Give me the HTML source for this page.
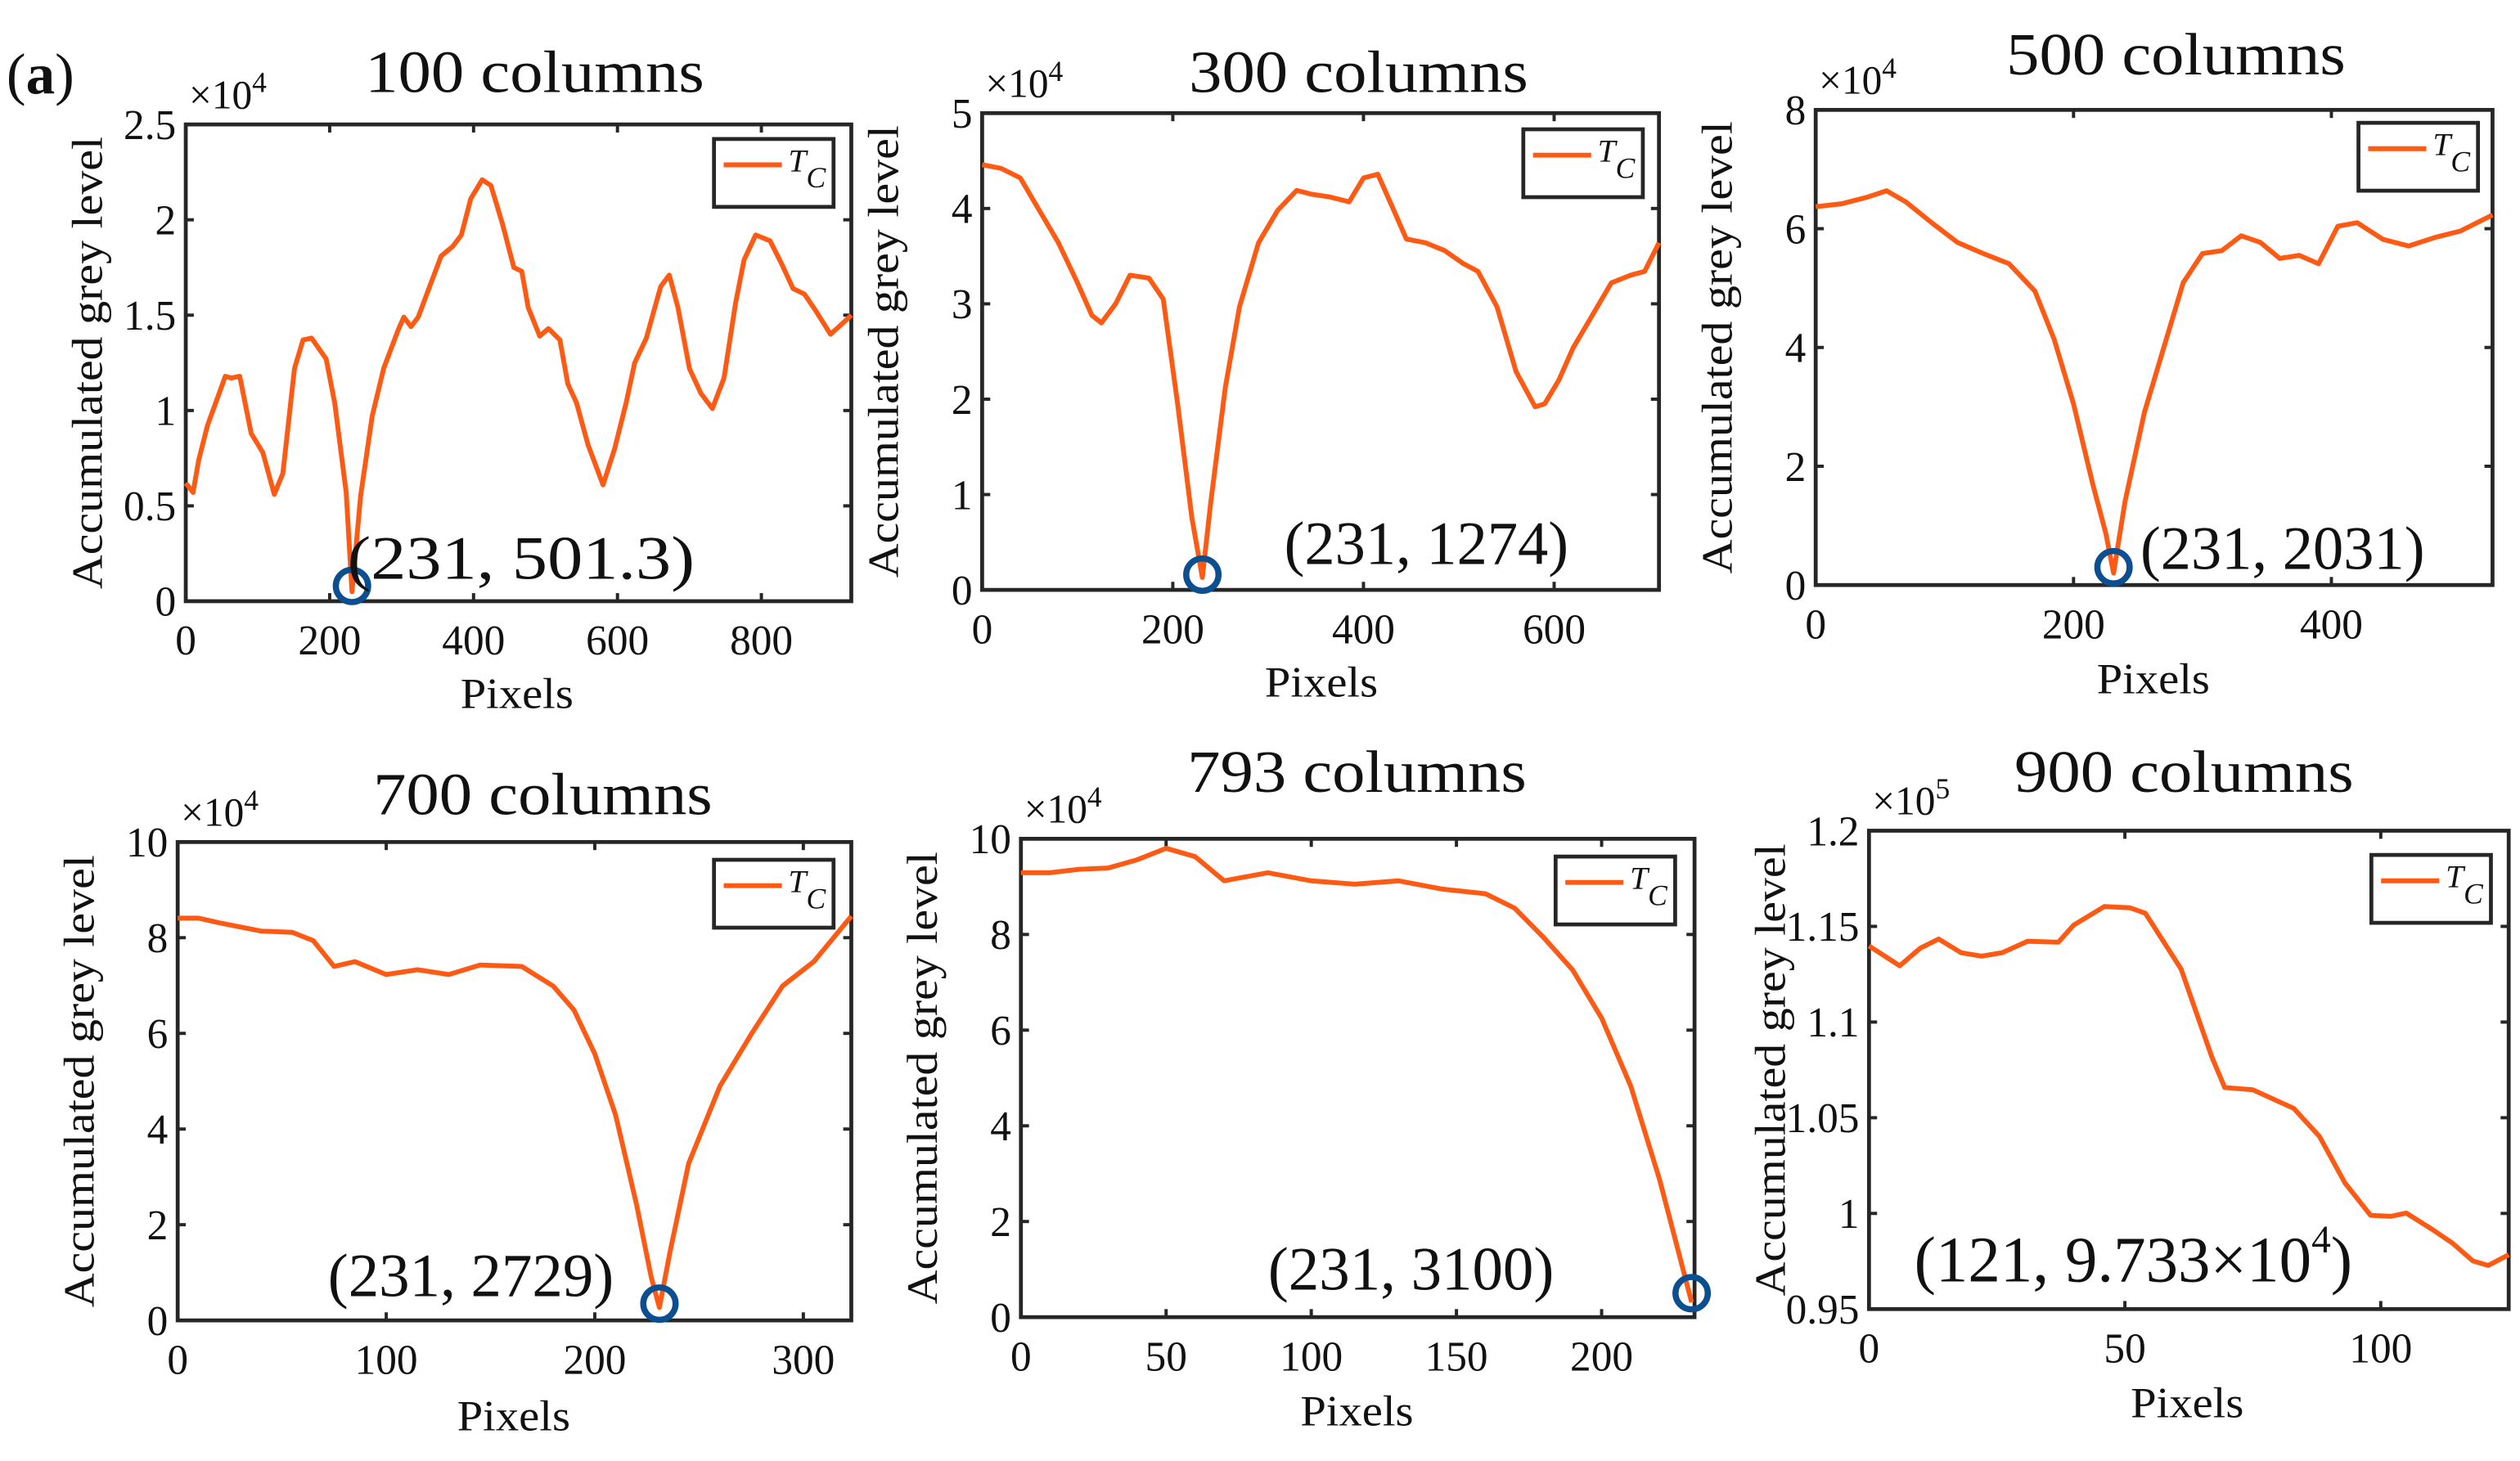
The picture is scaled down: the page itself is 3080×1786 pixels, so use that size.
<!DOCTYPE html>
<html><head><meta charset="utf-8">
<style>
html,body{margin:0;padding:0;background:#fff;}
svg{display:block;}
text{font-family:"Liberation Serif",serif;fill:#111;}
</style></head>
<body>
<svg id="fig" width="3080" height="1786" viewBox="0 0 1560 904" preserveAspectRatio="none" xmlns="http://www.w3.org/2000/svg">
<rect x="0" y="0" width="1560" height="904" fill="#fff"/>
<text x="4" y="58" font-size="36"><tspan>(</tspan><tspan font-weight="bold">a</tspan><tspan>)</tspan></text>
</svg>
<script>
// ---- data arrays (x in pixels, y in scaled units) ----
const p1x=[0,2,10,18,30,55,63,75,91,107,123,135,151,163,175,195,207,223,231,243,259,275,295,303,313,323,335,355,371,383,396,412,424,440,456,467,476,492,504,520,531,543,559,580,596,612,624,640,660,672,684,700,716,732,748,764,776,792,812,828,844,860,876,896,908,925];
const p1y=[0.6,0.61,0.57,0.74,0.92,1.18,1.17,1.18,0.88,0.78,0.56,0.67,1.22,1.37,1.38,1.27,1.04,0.57,0.05,0.55,0.97,1.22,1.42,1.49,1.44,1.49,1.61,1.81,1.86,1.92,2.11,2.21,2.18,1.98,1.75,1.73,1.54,1.39,1.43,1.37,1.14,1.04,0.82,0.61,0.80,1.04,1.25,1.38,1.65,1.71,1.54,1.22,1.09,1.01,1.17,1.56,1.79,1.92,1.89,1.77,1.64,1.61,1.52,1.40,1.44,1.50];
const p2x=[0,20,40,60,80,100,115,125,140,155,175,190,205,220,231,240,255,270,290,310,330,345,365,385,400,415,430,445,465,485,505,520,540,560,580,590,605,620,640,660,680,695,710];
const p2y=[4.46,4.42,4.32,3.98,3.64,3.22,2.88,2.80,3.0,3.3,3.27,3.05,1.95,0.76,0.13,0.93,2.12,2.97,3.64,3.98,4.19,4.15,4.12,4.07,4.32,4.36,4.02,3.68,3.64,3.56,3.42,3.34,2.97,2.29,1.92,1.95,2.20,2.54,2.88,3.22,3.30,3.34,3.64];
const p3x=[0,20,40,55,70,90,110,130,150,170,185,200,215,225,231,240,255,270,285,300,315,330,345,360,375,390,405,420,440,460,480,500,525];
const p3y=[6.37,6.42,6.53,6.64,6.45,6.10,5.77,5.58,5.41,4.95,4.14,3.05,1.69,0.87,0.2,1.41,2.91,4.0,5.09,5.58,5.63,5.88,5.77,5.50,5.55,5.41,6.04,6.10,5.82,5.71,5.85,5.96,6.23];
const p4x=[0,10,20,40,55,65,75,85,100,115,130,145,165,180,190,200,210,220,227,231,236,245,260,275,290,305,323];
const p4y=[8.41,8.41,8.31,8.14,8.11,7.94,7.40,7.50,7.23,7.33,7.23,7.43,7.40,6.99,6.49,5.57,4.29,2.43,0.91,0.27,1.42,3.28,4.90,5.98,6.99,7.50,8.45];
const p5x=[0,10,20,30,40,50,60,70,85,100,115,130,145,160,170,180,190,200,210,220,228,231];
const p5y=[9.29,9.29,9.36,9.39,9.56,9.80,9.63,9.12,9.29,9.12,9.05,9.12,8.95,8.85,8.55,7.94,7.26,6.25,4.83,2.87,1.01,0.31];
const p6x=[0,6,10,13.6,18,22,26,31,37,40,46,51,54,61,67,69.5,75,83,88,93,98,102,105,110,114,118,121,125];
const p6y=[1.1398,1.1294,1.1386,1.1434,1.1362,1.1345,1.1362,1.1422,1.1417,1.1507,1.1604,1.1597,1.1568,1.1277,1.0816,1.0658,1.0646,1.0549,1.0403,1.016,0.9990,0.9985,1.0002,0.9917,0.9845,0.9752,0.9728,0.9784];
const xt1=[0,200,400,600,800], yt1=[0,0.5,1,1.5,2,2.5], yl1=["0","0.5","1","1.5","2","2.5"];
const xt2=[0,200,400,600], yt2=[0,1,2,3,4,5], yl2=["0","1","2","3","4","5"];
const xt3=[0,200,400], yt3=[0,2,4,6,8], yl3=["0","2","4","6","8"];
const xt4=[0,100,200,300], yt4=[0,2,4,6,8,10], yl4=["0","2","4","6","8","10"];
const xt5=[0,50,100,150,200], yt5=[0,2,4,6,8,10], yl5=["0","2","4","6","8","10"];
const xt6=[0,50,100], yt6=[0.95,1,1.05,1.1,1.15,1.2], yl6=["0.95","1","1.05","1.1","1.15","1.2"];
const titles=["100 columns","300 columns","500 columns","700 columns","793 columns","900 columns"];
const mins=[[231,0.08],[231,0.16],[231,0.3],[231,0.35],[231,0.5],null];

const NS="http://www.w3.org/2000/svg";
const svg=document.getElementById('fig');
function mk(tag,attrs,parent){const e=document.createElementNS(NS,tag);for(const k in attrs)e.setAttribute(k,attrs[k]);(parent||svg).appendChild(e);return e;}

const panels=[
 {L:115,R:527,T:77,B:372,xmax:925,ymin:0,ymax:2.5,xs:p1x,ys:p1y,xt:xt1,yt:yt1,yl:yl1,exp:"4",tx:331,ty:57,leg:[442,86],ann:"(231, 501.3)",al:215,ax:215,ay:358,px:320,py:438},
 {L:608,R:1027,T:70,B:365,xmax:710,ymin:0,ymax:5,xs:p2x,ys:p2y,xt:xt2,yt:yt2,yl:yl2,exp:"4",tx:841,ty:57,leg:[943,80],ann:"(231, 1274)",al:176,ax:795,ay:349,px:818,py:431},
 {L:1124,R:1543,T:68,B:362,xmax:525,ymin:0,ymax:8,xs:p3x,ys:p3y,xt:xt3,yt:yt3,yl:yl3,exp:"4",tx:1347,ty:46,leg:[1460,76],ann:"(231, 2031)",al:176,ax:1325,ay:352,px:1333,py:429},
 {L:110,R:527,T:521,B:817,xmax:323,ymin:0,ymax:10,xs:p4x,ys:p4y,xt:xt4,yt:yt4,yl:yl4,exp:"4",tx:336,ty:504,leg:[442,532],ann:"(231, 2729)",al:177,ax:203,ay:802,px:318,py:885},
 {L:632,R:1049,T:519,B:815,xmax:232,ymin:0,ymax:10,xs:p5x,ys:p5y,xt:xt5,yt:yt5,yl:yl5,exp:"4",tx:840,ty:490,leg:[963,530],ann:"(231, 3100)",al:177,ax:785,ay:798,px:840,py:882},
 {L:1157,R:1553,T:514,B:810,xmax:125,ymin:0.95,ymax:1.2,xs:p6x,ys:p6y,xt:xt6,yt:yt6,yl:yl6,exp:"5",tx:1352,ty:490,leg:[1468,529],ann:null,al:0,ax:1185,ay:793,px:1354,py:877}
];

panels.forEach((p,i)=>{
  const g=mk('g',{});
  
  
  const X=v=>p.L+(v/p.xmax)*(p.R-p.L);
  const Y=v=>p.B-((v-p.ymin)/(p.ymax-p.ymin))*(p.B-p.T);
  const t=mk('text',{x:p.tx,y:p.ty,'font-size':37,'text-anchor':'middle',textLength:210,lengthAdjust:'spacingAndGlyphs'},g);t.textContent=titles[i];
  
  
  const box=mk('rect',{x:p.L,y:p.T,width:p.R-p.L,height:p.B-p.T,fill:'none',stroke:'#262626','stroke-width':2.4},g);
  
  
  p.xt.forEach(v=>{
    const x=X(v);
    mk('line',{x1:x,y1:p.B,x2:x,y2:p.B-5,stroke:'#262626','stroke-width':2},g);
    mk('line',{x1:x,y1:p.T,x2:x,y2:p.T+5,stroke:'#262626','stroke-width':2},g);
    const tl=mk('text',{x:x,y:p.B+33,'font-size':26,'text-anchor':'middle'},g);tl.textContent=String(v);
    
    
  });
  p.yt.forEach((v,k)=>{
    const y=Y(v);
    mk('line',{x1:p.L,y1:y,x2:p.L+5,y2:y,stroke:'#262626','stroke-width':2},g);
    mk('line',{x1:p.R,y1:y,x2:p.R-5,y2:y,stroke:'#262626','stroke-width':2},g);
    const tl=mk('text',{x:p.L-6,y:y+9,'font-size':26,'text-anchor':'end'},g);tl.textContent=p.yl[k];
    
    
  });
  const ex=mk('text',{x:p.L+2,y:p.T-10,'font-size':25},g);
  
  
  ex.innerHTML='×10<tspan dy="-10" font-size="18">'+p.exp+'</tspan>';
  const yc=(p.T+p.B)/2, xl=p.L-52;
  const yl=mk('text',{x:xl,y:yc,'font-size':27,'text-anchor':'middle',textLength:280,lengthAdjust:'spacingAndGlyphs',transform:'rotate(-90 '+xl+' '+yc+')'},g);
  yl.textContent='Accumulated grey level';
  
  
  const xlab=mk('text',{x:p.px,y:p.py,'font-size':27,'text-anchor':'middle',textLength:70,lengthAdjust:'spacingAndGlyphs'},g);
  xlab.textContent='Pixels';
  
  
  let d='';p.xs.forEach((v,k)=>{d+=(k?'L':'M')+X(v).toFixed(1)+','+Y(p.ys[k]).toFixed(1);});
  const line=mk('path',{d:d,fill:'none',stroke:'#ff5a14','stroke-width':3,'stroke-linejoin':'round'},g);
  
  
  if(mins[i]){
    const c=mk('ellipse',{cx:X(mins[i][0]),cy:Y(mins[i][1]),rx:10,ry:10,fill:'none',stroke:'#0b4f91','stroke-width':3.8},g);
    
    
  }
  let an;
  if(p.ann){
    an=mk('text',{x:p.ax,y:p.ay,'font-size':38,textLength:p.al,lengthAdjust:'spacingAndGlyphs'},g);
    an.textContent=p.ann;
  } else {
    an=mk('text',{x:p.ax,y:p.ay,'font-size':40},g);
    an.innerHTML='(121, 9.733×10<tspan dy="-18" font-size="24">4</tspan><tspan dy="18">)</tspan>';
  }
  
  
  const [lx,ly]=p.leg;
  const lg=mk('g',{},g);
  
  
  mk('rect',{x:lx,y:ly,width:74,height:42,fill:'#fff',stroke:'#262626','stroke-width':2.4},lg);
  mk('line',{x1:lx+6,y1:ly+16,x2:lx+42,y2:ly+16,stroke:'#ff5a14','stroke-width':3},lg);
  const lt=mk('text',{x:lx+46,y:ly+20,'font-size':20,'font-style':'italic'},lg);
  lt.innerHTML='T<tspan dy="10" font-size="18">C</tspan>';
  
  
});
</script>
</body></html>
